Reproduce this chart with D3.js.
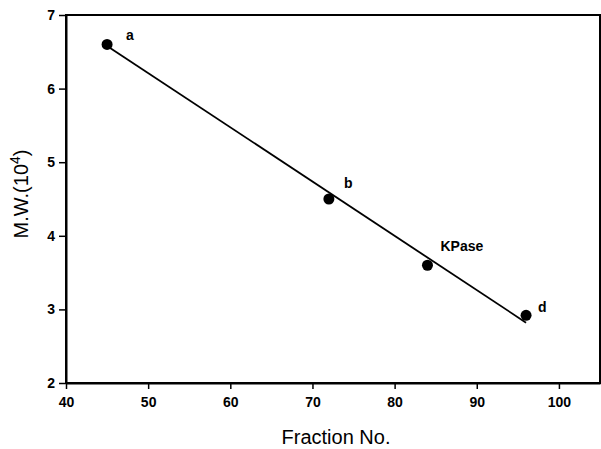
<!DOCTYPE html>
<html>
<head>
<meta charset="utf-8">
<script src="https://cdn.jsdelivr.net/npm/d3@7"></script>
<style>
  body { margin: 0; background: #fff; }
  svg { display: block; }
  text { font-family: "Liberation Sans", Arial, sans-serif; fill: #000; }
</style>
</head>
<body>
<div id="chart"></div>
<script>
// data
const fractions = [45, 72, 84, 96];
const mw = [6.6, 4.5, 3.6, 2.92];
const labels = ["a", "b", "KPase", "d"];
const fitX = [45, 96];
const fitY = [6.58, 2.82];
const xTicks = [40, 50, 60, 70, 80, 90, 100];
const yTicks = [2, 3, 4, 5, 6, 7];

const width = 601, height = 449;
const margin = { top: 15, right: 1, bottom: 66, left: 66 };

const svg = d3.select("#chart").append("svg")
    .attr("width", width)
    .attr("height", height);

const x = d3.scaleLinear().domain([40, 105]).range([margin.left, width - margin.right]);
const y = d3.scaleLinear().domain([2, 7]).range([height - margin.bottom, margin.top]);

// frame
svg.append("rect")
    .attr("x", x(40)).attr("y", y(7))
    .attr("width", x(105) - x(40)).attr("height", y(2) - y(7))
    .attr("fill", "none").attr("stroke", "#000").attr("stroke-width", 2);

const xAxis = svg.append("g")
    .attr("transform", `translate(0,${y(2)})`)
    .call(d3.axisBottom(x).tickValues(xTicks).tickFormat(d3.format("d")).tickSize(6).tickSizeOuter(0));
const yAxis = svg.append("g")
    .attr("transform", `translate(${x(40)},0)`)
    .call(d3.axisLeft(y).tickValues(yTicks).tickFormat(d3.format("d")).tickSize(7).tickSizeOuter(0));

[xAxis, yAxis].forEach(g => {
  g.select(".domain").attr("stroke-width", 2);
  g.selectAll(".tick line").attr("stroke-width", 1.5);
  g.selectAll(".tick text")
    .style("font-family", "Liberation Sans, Arial, sans-serif")
    .style("font-size", "14px")
    .style("font-weight", "bold");
});
xAxis.selectAll(".tick text").attr("dy", "1.1em");
yAxis.selectAll(".tick text").attr("x", -11);

// fitted line
svg.append("line")
    .attr("x1", x(fitX[0])).attr("y1", y(fitY[0]))
    .attr("x2", x(fitX[1])).attr("y2", y(fitY[1]))
    .attr("stroke", "#000").attr("stroke-width", 1.8);

const pts = fractions.map((f, i) => ({ f, m: mw[i], label: labels[i] }));

svg.append("g").selectAll("circle")
    .data(pts)
    .join("circle")
    .attr("cx", d => x(d.f))
    .attr("cy", d => y(d.m))
    .attr("r", 5.5)
    .attr("fill", "#000");

const labelOffset = { a: [19, -4], b: [15, -11], KPase: [13, -14], d: [12, -3] };
svg.append("g").selectAll("text")
    .data(pts)
    .join("text")
    .attr("x", d => x(d.f) + labelOffset[d.label][0])
    .attr("y", d => y(d.m) + labelOffset[d.label][1])
    .style("font-size", "14px")
    .style("font-weight", "bold")
    .text(d => d.label);

// axis titles
svg.append("text")
    .attr("x", 336).attr("y", 444)
    .attr("text-anchor", "middle")
    .style("font-size", "20px")
    .text("Fraction No.");

const yt = svg.append("text")
    .attr("transform", "translate(28,194) rotate(-90)")
    .attr("text-anchor", "middle")
    .style("font-size", "20px");
yt.append("tspan").text("M.W.(10");
yt.append("tspan").attr("dy", -8).style("font-size", "14px").text("4");
yt.append("tspan").attr("dy", 8).text(")");
</script>
</body>
</html>
